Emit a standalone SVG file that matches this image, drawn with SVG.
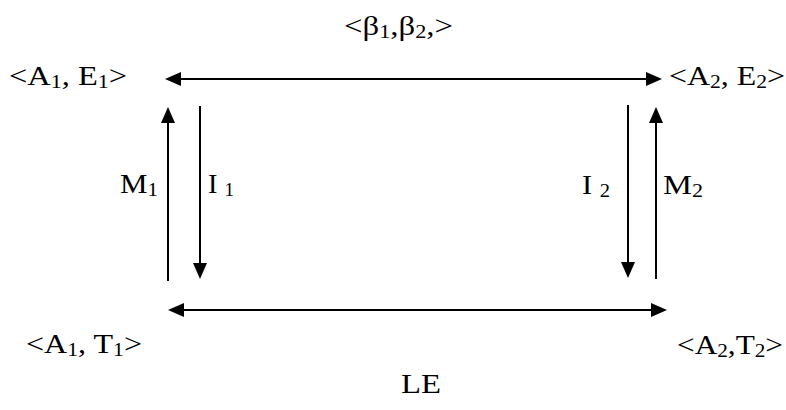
<svg xmlns="http://www.w3.org/2000/svg" width="786" height="410" viewBox="0 0 786 410">
<style>
text{font-family:"Liberation Serif","Times New Roman",serif;font-size:28px;fill:#000}
.s{font-size:19px}
.ln{stroke:#000;stroke-width:2;fill:none}
</style>
<defs>
<marker id="ah" markerUnits="userSpaceOnUse" markerWidth="16" markerHeight="14" refX="12" refY="7" orient="auto-start-reverse" viewBox="0 0 16 14">
<path d="M0,0 L16,7 L0,14 Z" fill="#000"/>
</marker>
</defs>
<rect width="786" height="410" fill="#fff"/>
<g id="connectors">
<line class="ln" x1="169" y1="79" x2="658" y2="79" marker-start="url(#ah)" marker-end="url(#ah)"/>
<line class="ln" x1="172" y1="310" x2="663" y2="310" marker-start="url(#ah)" marker-end="url(#ah)"/>
<line class="ln" x1="168" y1="281" x2="168" y2="111" marker-end="url(#ah)"/>
<line class="ln" x1="200" y1="106" x2="200" y2="275" marker-end="url(#ah)"/>
<line class="ln" x1="628" y1="105" x2="628" y2="274" marker-end="url(#ah)"/>
<line class="ln" x1="656" y1="279" x2="656" y2="111" marker-end="url(#ah)"/>
</g>
<g id="beta"><text x="344" y="35" textLength="109" lengthAdjust="spacingAndGlyphs">&lt;β<tspan class="s" dy="3">1</tspan><tspan dy="-3">,β</tspan><tspan class="s" dy="3">2</tspan><tspan dy="-3">,&gt;</tspan></text></g>
<g id="A1E1"><text x="9" y="85" textLength="118" lengthAdjust="spacingAndGlyphs">&lt;A<tspan class="s" dy="3">1</tspan><tspan dy="-3">, E</tspan><tspan class="s" dy="3">1</tspan><tspan dy="-3">&gt;</tspan></text></g>
<g id="A2E2"><text x="669" y="85" textLength="116" lengthAdjust="spacingAndGlyphs">&lt;A<tspan class="s" dy="3">2</tspan><tspan dy="-3">, E</tspan><tspan class="s" dy="3">2</tspan><tspan dy="-3">&gt;</tspan></text></g>
<g id="M1"><text x="120" y="193" textLength="38" lengthAdjust="spacingAndGlyphs">M<tspan class="s" dy="3">1</tspan></text></g>
<g id="I1"><text x="208" y="193" textLength="26" lengthAdjust="spacingAndGlyphs">I <tspan class="s" dy="3">1</tspan></text></g>
<g id="I2"><text x="582" y="194" textLength="28" lengthAdjust="spacingAndGlyphs">I <tspan class="s" dy="3">2</tspan></text></g>
<g id="M2"><text x="663" y="194" textLength="40" lengthAdjust="spacingAndGlyphs">M<tspan class="s" dy="3">2</tspan></text></g>
<g id="A1T1"><text x="26" y="353" textLength="116" lengthAdjust="spacingAndGlyphs">&lt;A<tspan class="s" dy="3">1</tspan><tspan dy="-3">, T</tspan><tspan class="s" dy="3">1</tspan><tspan dy="-3">&gt;</tspan></text></g>
<g id="A2T2"><text x="677" y="354" textLength="106" lengthAdjust="spacingAndGlyphs">&lt;A<tspan class="s" dy="3">2</tspan><tspan dy="-3">,T</tspan><tspan class="s" dy="3">2</tspan><tspan dy="-3">&gt;</tspan></text></g>
<g id="LE"><text x="401" y="393" textLength="40" lengthAdjust="spacingAndGlyphs">LE</text></g>
</svg>
